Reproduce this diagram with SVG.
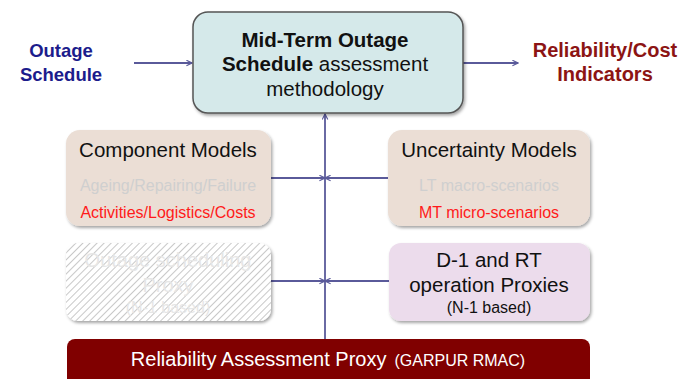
<svg xmlns="http://www.w3.org/2000/svg" width="683" height="379" viewBox="0 0 683 379">
<defs>
<style>
text{font-family:"Liberation Sans",Arial,sans-serif;text-anchor:middle}
.conn{stroke:#5a5a9a;stroke-width:1.8;fill:none}
.big{font-size:20.5px;fill:#111}
.small{font-size:16px}
</style>
<marker id="ah" viewBox="0 0 10 10" refX="9" refY="5" markerWidth="7" markerHeight="7" orient="auto" markerUnits="userSpaceOnUse">
<path d="M1,1 L9,5 L1,9" fill="none" stroke="#5a5a9a" stroke-width="1.6"/>
</marker>
<filter id="sh" x="-10%" y="-10%" width="125%" height="130%">
<feDropShadow dx="1.5" dy="2" stdDeviation="1.5" flood-color="#000" flood-opacity="0.35"/>
</filter>
<pattern id="hatch" width="5" height="5" patternUnits="userSpaceOnUse" patternTransform="rotate(45)">
<rect width="5" height="5" fill="#ffffff"/>
<line x1="0" y1="0" x2="0" y2="5" stroke="#c8c8c8" stroke-width="2"/>
</pattern>
</defs>
<rect width="683" height="379" fill="#fff"/>

<g id="connectors">
<line class="conn" x1="325" y1="340" x2="325" y2="114" marker-end="url(#ah)"/>
<line class="conn" x1="134" y1="63" x2="192" y2="63" marker-end="url(#ah)"/>
<line class="conn" x1="463" y1="63" x2="518" y2="63" marker-end="url(#ah)"/>
<line class="conn" x1="271" y1="178" x2="325" y2="178" marker-end="url(#ah)"/>
<line class="conn" x1="388" y1="178" x2="325" y2="178" marker-end="url(#ah)"/>
<line class="conn" x1="271" y1="281" x2="325" y2="281" marker-end="url(#ah)"/>
<line class="conn" x1="389" y1="281" x2="325" y2="281" marker-end="url(#ah)"/>
</g>

<g id="input">
<text x="61" y="57" font-size="18.5" font-weight="bold" fill="#1c1c8c">Outage</text>
<text x="61" y="81" font-size="18.5" font-weight="bold" fill="#1c1c8c">Schedule</text>
</g>

<g id="output">
<text x="605" y="57" font-size="20" font-weight="bold" fill="#8c1414">Reliability/Cost</text>
<text x="605" y="81" font-size="20" font-weight="bold" fill="#8c1414">Indicators</text>
</g>

<g id="main">
<rect x="193" y="12" width="270" height="101" rx="15" fill="#d5e9ea" stroke="#555" stroke-width="1.5" filter="url(#sh)"/>
<text x="325" y="47" class="big" font-weight="bold">Mid-Term Outage</text>
<text x="325" y="71" class="big"><tspan font-weight="bold">Schedule</tspan> assessment</text>
<text x="325" y="96" class="big">methodology</text>
</g>

<g id="component">
<rect x="66" y="130" width="205" height="96" rx="14" fill="#ebded5" filter="url(#sh)"/>
<text x="168" y="157" class="big">Component Models</text>
<text x="168" y="191" class="small" fill="#cfcfcf">Ageing/Repairing/Failure</text>
<text x="168" y="218" class="small" fill="#ff1a1a">Activities/Logistics/Costs</text>
</g>

<g id="uncertainty">
<rect x="388" y="130" width="202" height="96" rx="14" fill="#ebded5" filter="url(#sh)"/>
<text x="489" y="157" class="big">Uncertainty Models</text>
<text x="489" y="191" class="small" fill="#cfcfcf">LT macro-scenarios</text>
<text x="489" y="218" class="small" fill="#ff1a1a">MT micro-scenarios</text>
</g>

<g id="outage-proxy">
<rect x="66" y="243" width="205" height="78" rx="12" fill="url(#hatch)" filter="url(#sh)"/>
<text x="168" y="267" font-size="20" fill="#e6e6e6">Outage scheduling</text>
<text x="168" y="292" font-size="20" fill="#e6e6e6">Proxy</text>
<text x="168" y="313" font-size="16" fill="#e6e6e6">(N-1 based)</text>
</g>

<g id="operation-proxy">
<rect x="389" y="243" width="201" height="78" rx="12" fill="#ecdcec" filter="url(#sh)"/>
<text x="489" y="267" class="big">D-1 and RT</text>
<text x="489" y="292" class="big">operation Proxies</text>
<text x="489" y="313" font-size="16" fill="#111">(N-1 based)</text>
</g>

<g id="rmac">
<rect x="67" y="339" width="523" height="50" rx="8" fill="#800000"/>
<text x="328" y="366" fill="#fff"><tspan font-size="20">Reliability Assessment Proxy</tspan><tspan font-size="16" dx="8">(GARPUR RMAC)</tspan></text>
</g>
</svg>
